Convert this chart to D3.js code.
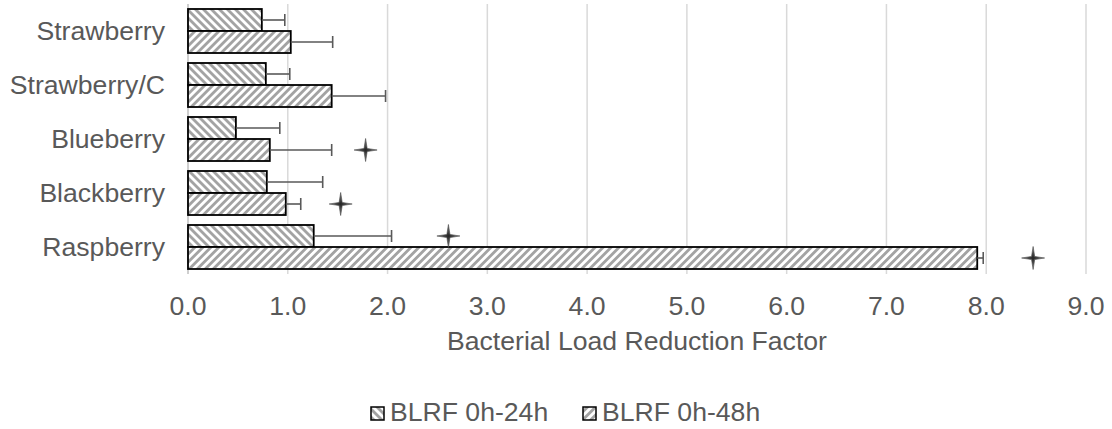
<!DOCTYPE html>
<html>
<head>
<meta charset="utf-8">
<script src="https://cdn.jsdelivr.net/npm/d3@7"></script>
<style>
  html, body { margin: 0; padding: 0; background: #fff; }
  svg { display: block; }
  text { font-family: "Liberation Sans", Arial, sans-serif; fill: #595959; }
</style>
</head>
<body>
<svg id="chart" width="1112" height="429"></svg>
<script>
// ---- data ----
const categories = ["Strawberry", "Strawberry/C", "Blueberry", "Blackberry", "Raspberry"];
const seriesNames = ["BLRF 0h-24h", "BLRF 0h-48h"];
const blrf24 = [0.74, 0.78, 0.48, 0.79, 1.26];
const err24  = [0.23, 0.24, 0.44, 0.56, 0.78];
const blrf48 = [1.03, 1.44, 0.82, 0.98, 7.91];
const err48  = [0.42, 0.54, 0.62, 0.15, 0.06];
const xTicks = [0, 1, 2, 3, 4, 5, 6, 7, 8, 9];
const sigCategory = ["Blueberry", "Blackberry", "Raspberry", "Raspberry"];
const sigSeries   = ["BLRF 0h-48h", "BLRF 0h-48h", "BLRF 0h-24h", "BLRF 0h-48h"];
const sigX        = [1.78, 1.53, 2.61, 8.47];
const axisTitle = "Bacterial Load Reduction Factor";

// ---- layout ----
const FS = 26.6;
const svg = d3.select("#chart");
const x = d3.scaleLinear().domain([0, 9]).range([188, 1086]);
const y = d3.scaleBand().domain(categories).range([4, 274]).paddingInner(0.185).paddingOuter(0.0925);
const ys = d3.scaleBand().domain(seriesNames).range([0, y.bandwidth()]);

// patterns
const defs = svg.append("defs");
function stripe(id, angle) {
  const p = defs.append("pattern").attr("id", id).attr("patternUnits", "userSpaceOnUse")
    .attr("width", 5.66).attr("height", 5.66).attr("patternTransform", `rotate(${angle})`);
  p.append("rect").attr("width", 5.66).attr("height", 5.66).attr("fill", "#fff");
  p.append("rect").attr("width", 2.83).attr("height", 5.66).attr("fill", "#a3a3a3");
}
stripe("p24", -45);
stripe("p48", 45);
const patternFor = { "BLRF 0h-24h": "url(#p24)", "BLRF 0h-48h": "url(#p48)" };

// gridlines
svg.append("g").selectAll("line").data(xTicks.filter(d => d > 0)).join("line")
  .attr("x1", d => x(d)).attr("x2", d => x(d)).attr("y1", 4).attr("y2", 274)
  .attr("stroke", "#d9d9d9").attr("stroke-width", 1.5);

// axis at 0
svg.append("line").attr("x1", x(0)).attr("x2", x(0)).attr("y1", 4).attr("y2", 274)
  .attr("stroke", "#bfbfbf").attr("stroke-width", 1.5);

// bars
const rows = [];
categories.forEach((c, i) => {
  rows.push({ cat: c, s: seriesNames[0], v: blrf24[i], e: err24[i] });
  rows.push({ cat: c, s: seriesNames[1], v: blrf48[i], e: err48[i] });
});
svg.append("g").selectAll("rect").data(rows).join("rect")
  .attr("x", x(0)).attr("y", d => y(d.cat) + ys(d.s))
  .attr("width", d => x(d.v) - x(0)).attr("height", ys.bandwidth())
  .attr("fill", d => patternFor[d.s]).attr("stroke", "#000").attr("stroke-width", 1.8);

// error bars
const eg = svg.append("g").attr("stroke", "#595959").attr("stroke-width", 1.6);
rows.forEach(d => {
  const cy = y(d.cat) + ys(d.s) + ys.bandwidth() / 2;
  eg.append("line").attr("x1", x(d.v)).attr("x2", x(d.v + d.e)).attr("y1", cy).attr("y2", cy);
  eg.append("line").attr("x1", x(d.v + d.e)).attr("x2", x(d.v + d.e)).attr("y1", cy - 6).attr("y2", cy + 6);
});

// significance stars
function starPath(r, ri) {
  const pts = [];
  for (let k = 0; k < 8; k++) {
    const a = -Math.PI / 2 + k * Math.PI / 4;
    const rr = k % 2 === 0 ? r : ri;
    pts.push([rr * Math.cos(a), rr * Math.sin(a)]);
  }
  return "M" + pts.map(p => p.join(",")).join("L") + "Z";
}
const grad = defs.append("radialGradient").attr("id", "sg");
grad.append("stop").attr("offset", "0%").attr("stop-color", "#222");
grad.append("stop").attr("offset", "100%").attr("stop-color", "#8a8a8a");
sigX.forEach((v, i) => {
  const cy = y(sigCategory[i]) + ys(sigSeries[i]) + ys.bandwidth() / 2;
  svg.append("path").attr("d", starPath(11.5, 2.2))
    .attr("transform", `translate(${x(v)},${cy})`)
    .attr("fill", "url(#sg)").attr("stroke", "#444").attr("stroke-width", 0.6);
});

// category labels
svg.append("g").selectAll("text").data(categories).join("text")
  .attr("x", 165).attr("y", d => y(d) + y.bandwidth() / 2)
  .attr("dy", "0.35em").attr("text-anchor", "end").attr("font-size", FS)
  .text(d => d);

// x tick labels
svg.append("g").selectAll("text").data(xTicks).join("text")
  .attr("x", d => x(d)).attr("y", 315).attr("text-anchor", "middle").attr("font-size", FS)
  .text(d => d3.format(".1f")(d));

// axis title
svg.append("text").attr("x", (x(0) + x(9)) / 2).attr("y", 350).attr("text-anchor", "middle")
  .attr("font-size", FS).text(axisTitle);

// legend
const legendX = [371, 583];
seriesNames.forEach((s, i) => {
  svg.append("rect").attr("x", legendX[i]).attr("y", 407).attr("width", 13).attr("height", 13)
    .attr("fill", patternFor[s]).attr("stroke", "#000").attr("stroke-width", 1.5);
  svg.append("text").attr("x", legendX[i] + 19).attr("y", 421).attr("font-size", FS).text(s);
});
</script>
</body>
</html>
